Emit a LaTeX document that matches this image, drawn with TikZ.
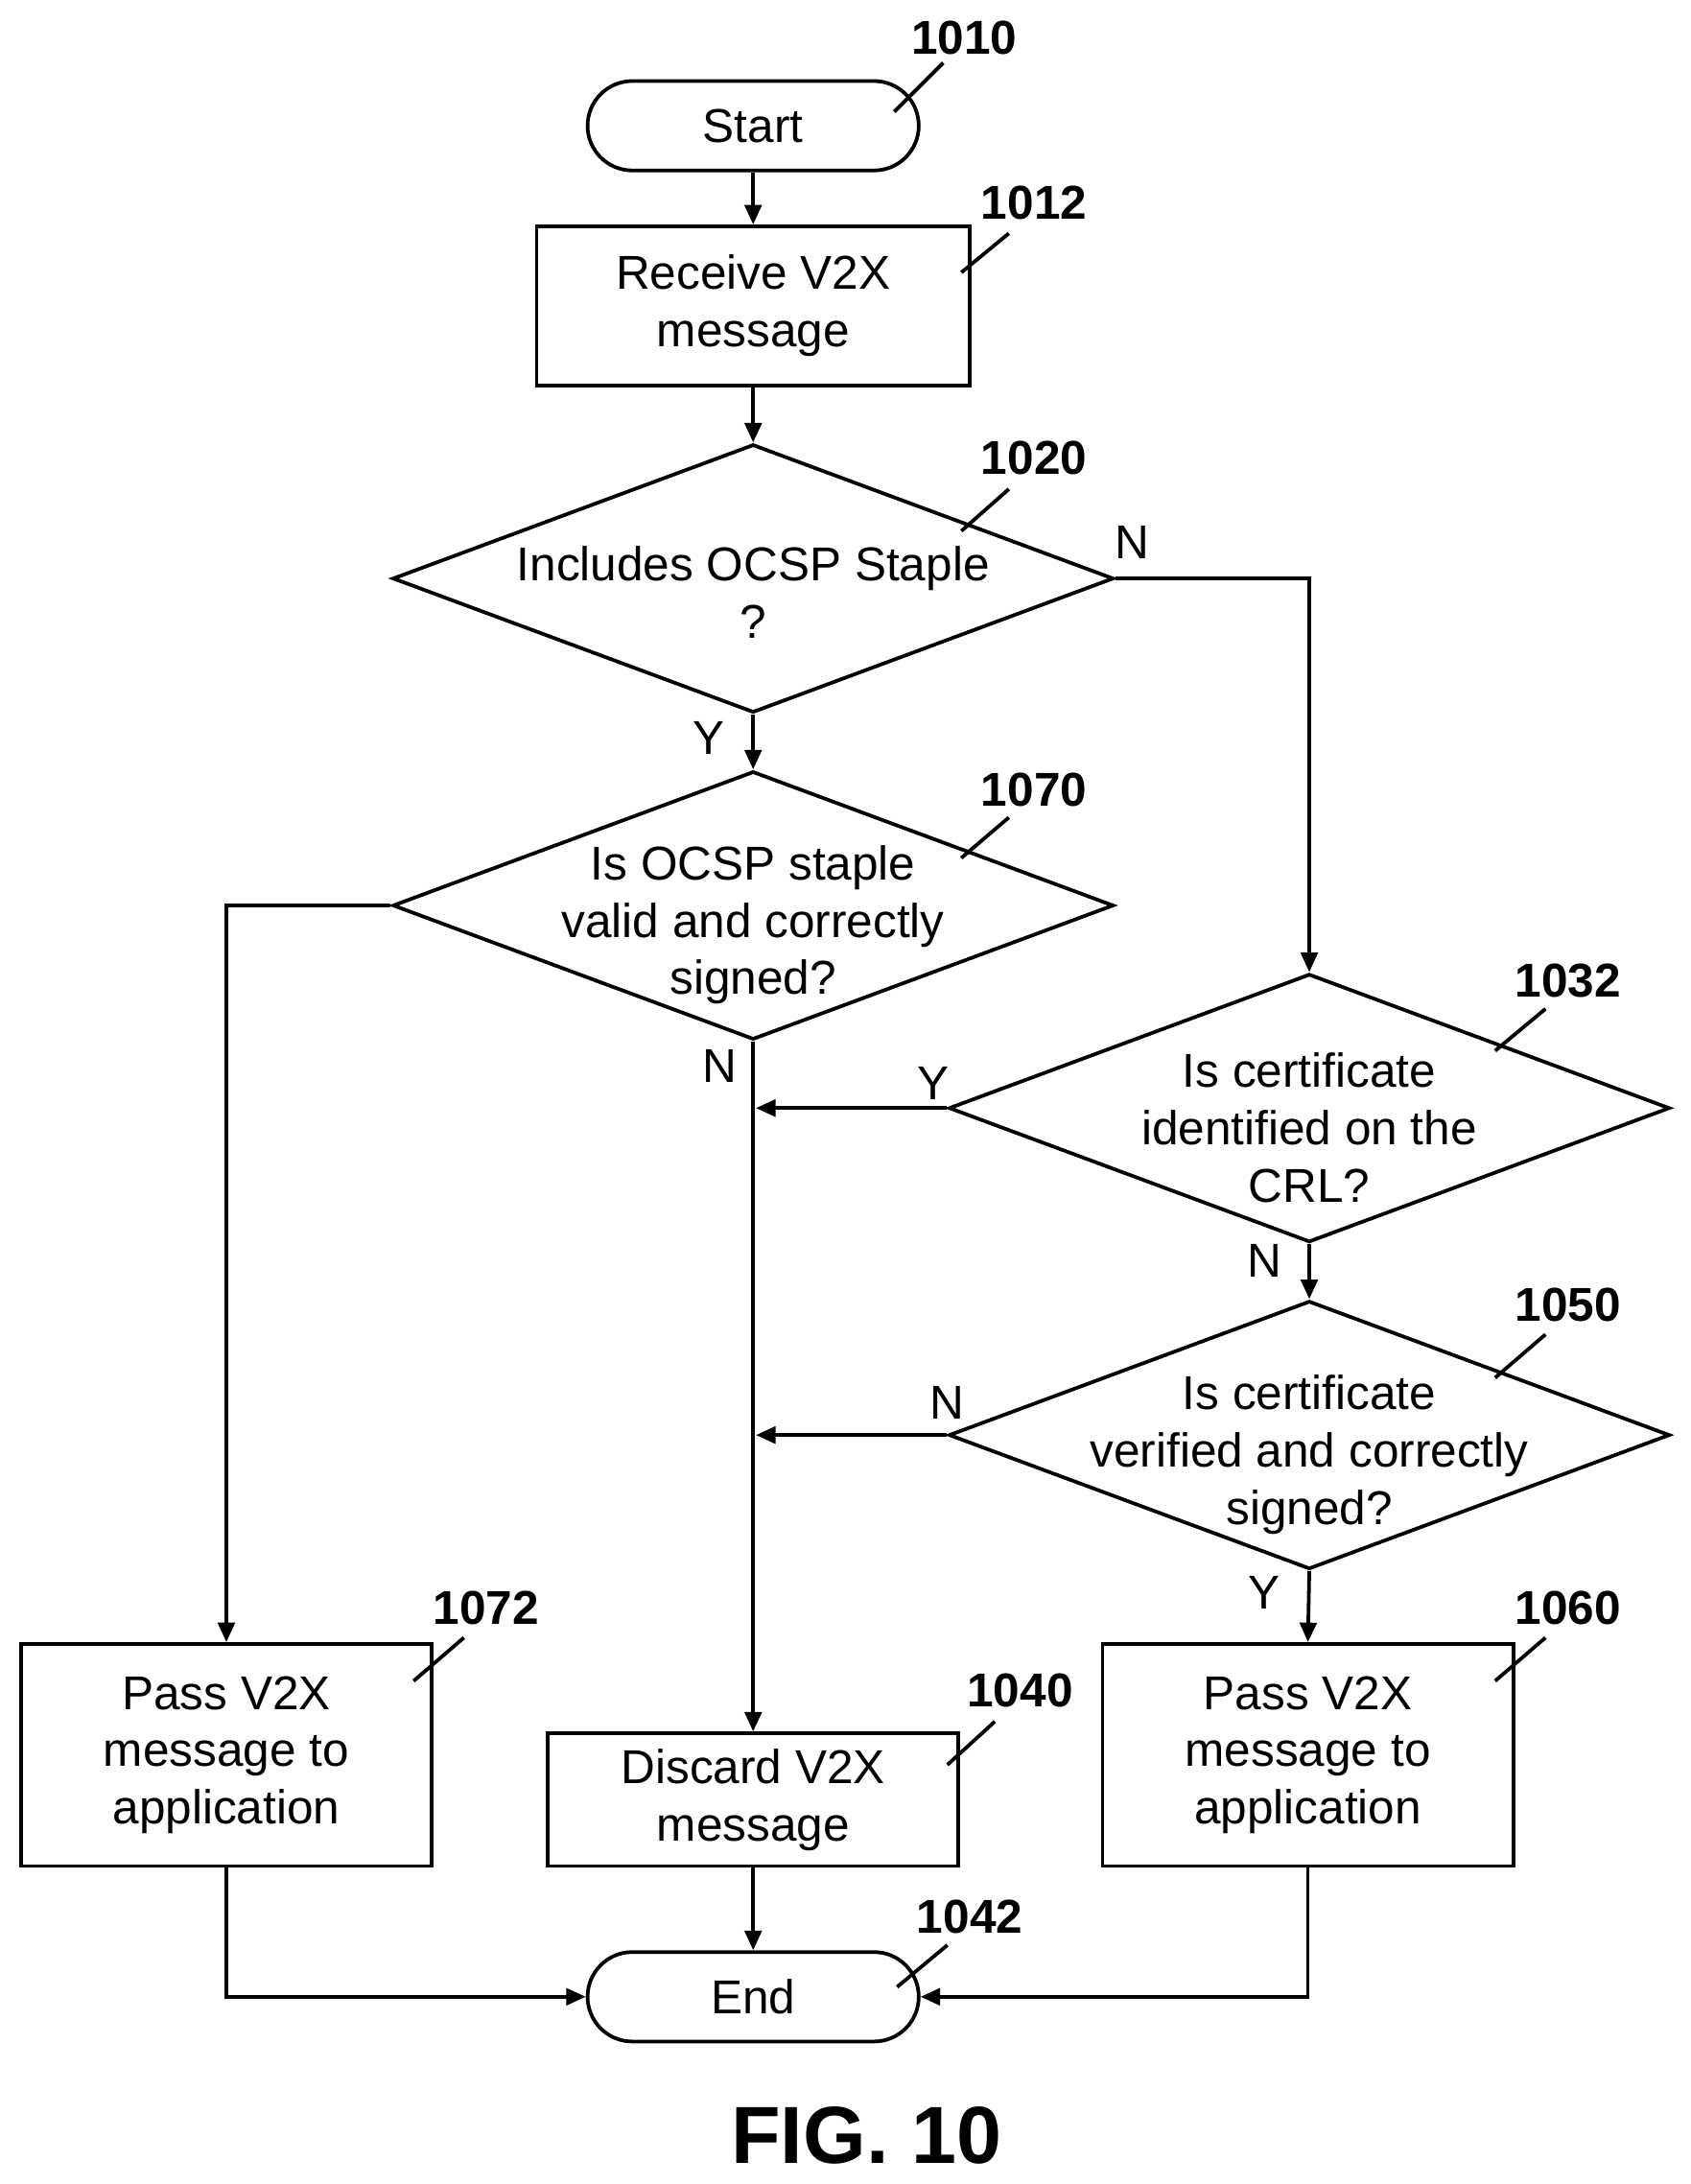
\documentclass[tikz,border=0pt]{standalone}
\usepackage{fontspec}
\setmainfont{Liberation Sans}
\usetikzlibrary{positioning,shapes.geometric,arrows.meta}
\begin{document}
\begin{tikzpicture}[x=0.5pt,y=-0.5pt,
    every node/.style={font=\fontsize{17}{20.5}\selectfont},
    term/.style={draw,line width=1.3pt,rounded corners=16pt,minimum width=118.5pt,minimum height=32pt},
    proc/.style={draw,line width=1.3pt,align=center,inner sep=0pt},
    dec/.style={draw,line width=1.3pt,diamond,inner sep=0pt,minimum width=258pt,minimum height=96pt},
    txt/.style={align=center},
    lbl/.style={font=\fontsize{17}{18}\selectfont\bfseries},
    flow/.style={line width=1.3pt,-{Triangle[length=7pt,width=6pt]}},
    lead/.style={line width=1.3pt}]
    \useasboundingbox (0,0) rectangle (1210,1563);

    \node [term] (start) at (539,90) {Start};
    \node [proc,minimum width=155pt,minimum height=57pt] (recv) at (539,219) {Receive V2X\\message};
    \node [dec] (ocsp) at (539,414) {};
    \node [txt] at ([yshift=-5pt]ocsp) {Includes OCSP Staple\\?};
    \node [dec] (valid) at (539,648) {};
    \node [txt] at ([yshift=-7pt]valid) {Is OCSP staple\\valid and correctly\\signed?};
    \node [dec] (crl) at (937,793) {};
    \node [txt] at ([yshift=-7pt]crl) {Is certificate\\identified on the\\CRL?};
    \node [dec] (verif) at (937,1027) {};
    \node [txt] at ([yshift=-7pt]verif) {Is certificate\\verified and correctly\\signed?};
    \node [proc,minimum width=147pt,minimum height=79.5pt] (passl) at (162,1256) {Pass V2X\\message to\\application};
    \node [proc,minimum width=147pt,minimum height=47.5pt] (discard) at (539,1288) {Discard V2X\\message};
    \node [proc,minimum width=147pt,minimum height=79.5pt] (passr) at (936,1256) {Pass V2X\\message to\\application};
    \node [term] (end) at (539,1429) {End};
    \node [font=\fontsize{29}{33}\selectfont\bfseries] (fig) at (620,1528) {FIG. 10};

    % reference numerals
    \node [lbl] (n1010) at (690,27) {1010};
    \node [lbl] (n1012) at (740,145) {1012};
    \node [lbl] (n1020) at (740,328) {1020};
    \node [lbl] (n1070) at (740,565) {1070};
    \node [lbl] (n1032) at (1122,702) {1032};
    \node [lbl] (n1050) at (1122,934) {1050};
    \node [lbl] (n1072) at (348,1151) {1072};
    \node [lbl] (n1040) at (730,1210) {1040};
    \node [lbl] (n1060) at (1122,1151) {1060};
    \node [lbl] (n1042) at (694,1372) {1042};
    \draw [lead] (640,80) -- (675,45);
    \draw [lead] (688,195) -- (722,167);
    \draw [lead] (688,380) -- (722,350);
    \draw [lead] (688,614) -- (722,585);
    \draw [lead] (1070,752) -- (1106,722);
    \draw [lead] (1070,986) -- (1106,955);
    \draw [lead] (296,1203) -- (332,1172);
    \draw [lead] (678,1263) -- (712,1232);
    \draw [lead] (1070,1203) -- (1106,1172);
    \draw [lead] (642,1422) -- (678,1392);

    \coordinate (j1) at (539,793);
    \coordinate (j2) at (539,1027);

    \draw [flow] (start) -- (recv);
    \draw [flow] (recv) -- (ocsp.north);
    \draw [flow] (ocsp.east) -| (crl.north);
    \node at (810,388) {N};
    \draw [flow] (ocsp.south) -- (valid.north);
    \node at (507,528) {Y};
    \draw [flow] (valid.west) -| (passl.north);
    \draw [flow] (valid.south) -- (discard.north);
    \node at (515,763) {N};
    \draw [flow] (crl.west) -- ([xshift=1pt]j1);
    \node at (668,775) {Y};
    \draw [flow] (crl.south) -- (verif.north);
    \node at (905,902) {N};
    \draw [flow] (verif.west) -- ([xshift=1pt]j2);
    \node at (678,1004) {N};
    \draw [flow] (verif.south) -- (passr.north);
    \node at (905,1140) {Y};
    \draw [flow] (passl.south) |- (end.west);
    \draw [flow] (discard) -- (end);
    \draw [flow] (passr.south) |- (end.east);
\end{tikzpicture}
\end{document}
